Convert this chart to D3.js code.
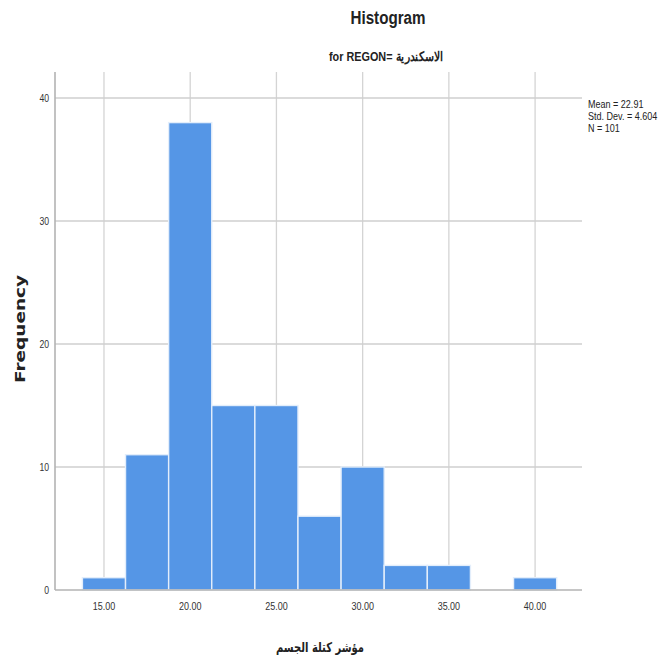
<!DOCTYPE html>
<html>
<head>
<meta charset="utf-8">
<script src="https://cdn.jsdelivr.net/npm/d3@7"></script>
<style>
  html, body { margin: 0; padding: 0; background: #fff; }
  svg { display: block; }
  .narrow { font-family: "Liberation Sans", Arial, sans-serif; }
</style>
</head>
<body>
<svg id="chart" width="667" height="659"></svg>
<script>
// Histogram of body-mass index, bins of width 2.5 centred on these values
const binCenters = [15, 17.5, 20, 22.5, 25, 27.5, 30, 32.5, 35, 37.5, 40];
const frequencies = [1, 11, 38, 15, 15, 6, 10, 2, 2, 0, 1];
const binWidth = 2.5;
const xTicks = [15, 20, 25, 30, 35, 40];
const yTicks = [0, 10, 20, 30, 40];
const statLines = ["Mean = 22.91", "Std. Dev. = 4.604", "N = 101"];

const svg = d3.select("#chart");
const plotLeft = 55, plotRight = 582, plotTop = 72, plotBottom = 590;

const x = d3.scaleLinear().domain([12.16, 42.72]).range([plotLeft, plotRight]);
const y = d3.scaleLinear().domain([0, 40]).range([plotBottom, 98]);

// condensed text: squeeze the natural width by a factor
function condense(sel, factor) {
  sel.each(function () {
    const w = this.getComputedTextLength();
    d3.select(this).attr("textLength", w * factor).attr("lengthAdjust", "spacingAndGlyphs");
  });
  return sel;
}

// vertical grid lines
svg.append("g").selectAll("line").data(xTicks).join("line")
  .attr("x1", d => x(d)).attr("x2", d => x(d))
  .attr("y1", plotTop).attr("y2", plotBottom)
  .attr("stroke", "#d4d4d4").attr("stroke-width", 1.3);

// horizontal grid lines
svg.append("g").selectAll("line").data(yTicks.filter(d => d > 0)).join("line")
  .attr("x1", plotLeft).attr("x2", plotRight)
  .attr("y1", d => y(d)).attr("y2", d => y(d))
  .attr("stroke", "#cfcfcf").attr("stroke-width", 1.3);

// bars
svg.append("g").selectAll("rect")
  .data(binCenters.map((c, i) => ({ c, f: frequencies[i] })).filter(d => d.f > 0))
  .join("rect")
  .attr("x", d => x(d.c - binWidth / 2))
  .attr("width", d => x(d.c + binWidth / 2) - x(d.c - binWidth / 2))
  .attr("y", d => y(d.f))
  .attr("height", d => y(0) - y(d.f))
  .attr("fill", "#5596e6")
  .attr("stroke", "#e3eefb")
  .attr("stroke-width", 1.4);

// axis lines
svg.append("line").attr("x1", plotLeft).attr("x2", plotLeft).attr("y1", plotTop).attr("y2", plotBottom)
  .attr("stroke", "#b3b3b3").attr("stroke-width", 1.6);
svg.append("line").attr("x1", plotLeft).attr("x2", plotRight).attr("y1", plotBottom).attr("y2", plotBottom)
  .attr("stroke", "#b3b3b3").attr("stroke-width", 1.6);

// x tick labels
condense(svg.append("g").selectAll("text").data(xTicks).join("text")
  .attr("class", "narrow")
  .attr("x", d => x(d)).attr("y", 610)
  .attr("text-anchor", "middle")
  .attr("font-size", 11.5).attr("fill", "#333")
  .text(d => d3.format(".2f")(d)), 0.78);

// y tick labels
condense(svg.append("g").selectAll("text").data(yTicks).join("text")
  .attr("class", "narrow")
  .attr("x", 49).attr("y", d => y(d) + 4)
  .attr("text-anchor", "end")
  .attr("font-size", 11.5).attr("fill", "#333")
  .text(d => d), 0.75);

// titles
svg.append("text").attr("class", "narrow")
  .attr("x", 388).attr("y", 24).attr("text-anchor", "middle")
  .attr("font-size", 17.5).attr("font-weight", "bold").attr("fill", "#222")
  .attr("textLength", 75).attr("lengthAdjust", "spacingAndGlyphs")
  .text("Histogram");
svg.append("text").attr("class", "narrow")
  .attr("x", 386).attr("y", 61).attr("text-anchor", "middle")
  .attr("font-size", 13).attr("font-weight", "bold").attr("fill", "#222")
  .attr("direction", "ltr")
  .attr("textLength", 114).attr("lengthAdjust", "spacingAndGlyphs")
  .text("for REGON= \u200Eالاسكندرية");

// axis titles
svg.append("text")
  .attr("transform", "translate(25,329) rotate(-90)")
  .attr("text-anchor", "middle")
  .attr("font-family", "DejaVu Sans, Verdana, sans-serif")
  .attr("font-size", 14).attr("font-weight", "bold").attr("fill", "#222")
  .attr("textLength", 108).attr("lengthAdjust", "spacingAndGlyphs")
  .text("Frequency");
svg.append("text")
  .attr("x", 320).attr("y", 652).attr("text-anchor", "middle")
  .attr("font-family", "DejaVu Sans, Noto Sans, sans-serif")
  .attr("font-size", 13.5).attr("font-weight", "bold").attr("fill", "#222")
  .attr("textLength", 88).attr("lengthAdjust", "spacingAndGlyphs")
  .text("مؤشر كتلة الجسم");

// summary statistics, horizontally squeezed
svg.append("g").selectAll("text").data(statLines).join("text")
  .attr("class", "narrow")
  .attr("transform", (d, i) => `translate(588,${108 + i * 12}) scale(0.86,1)`)
  .attr("font-size", 10.5).attr("fill", "#222")
  .text(d => d);
</script>
</body>
</html>
